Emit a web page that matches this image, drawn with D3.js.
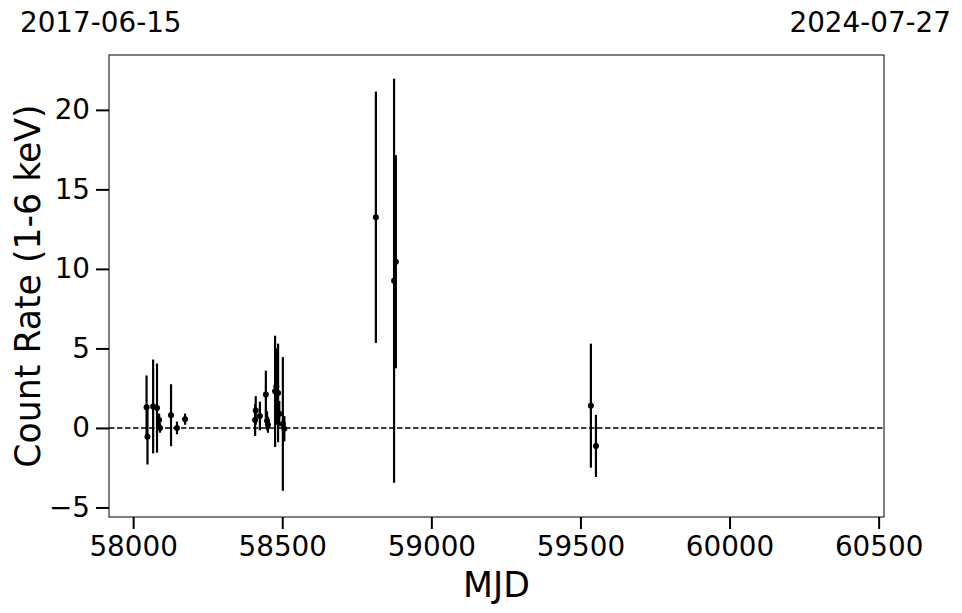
<!DOCTYPE html>
<html>
<head>
<meta charset="utf-8">
<script src="https://cdn.jsdelivr.net/npm/d3@7"></script>
<style>
  html, body { margin: 0; padding: 0; background: #fff; }
  svg { display: block; font-family: "DejaVu Sans", sans-serif; }
</style>
</head>
<body>
<svg id="chart" width="962" height="613"></svg>
<script>
// ---- data ----
const mjd   = [58045, 58048, 58067, 58080, 58087, 58090, 58127, 58147, 58174,
               58409, 58411, 58425, 58445, 58449, 58452, 58476, 58480, 58486, 58490, 58502, 58507,
               58814, 58875, 58881,
               59535, 59552];
const rate  = [1.3, -0.55, 1.35, 1.25, 0.5, 0.0, 0.8, 0.0, 0.55,
               0.5, 1.1, 0.75, 2.1, 0.45, 0.2, 2.3, 2.6, 2.2, 0.9, 0.25, -0.05,
               13.25, 9.25, 10.45,
               1.4, -1.13];
const rateErr = [2.0, 1.75, 2.95, 2.8, 0.4, 0.3, 1.95, 0.4, 0.35,
                 1.0, 0.9, 0.9, 1.5, 0.6, 0.5, 3.5, 2.4, 3.1, 0.8, 4.2, 0.8,
                 7.9, 12.7, 6.7,
                 3.9, 1.95];
const xTicks = [58000, 58500, 59000, 59500, 60000, 60500];
const yTicks = [-5, 0, 5, 10, 15, 20];
const startDate = "2017-06-15", endDate = "2024-07-27";
const xDomain = [57919, 60518];
const yDomain = [-5.6, 23.45];

// ---- layout ----
const svg = d3.select("#chart");
const L = 109, R = 884, T = 55, B = 517;
const x = d3.scaleLinear().domain(xDomain).range([L, R]);
const y = d3.scaleLinear().domain(yDomain).range([B, T]);
const pts = mjd.map((m, i) => ({m, r: rate[i], e: rateErr[i]}));

// zero line
svg.append("line")
  .attr("x1", L).attr("x2", R).attr("y1", y(0)).attr("y2", y(0))
  .attr("stroke", "#000").attr("stroke-width", 1.5).attr("stroke-dasharray", "5.5,2.5");

// error bars
svg.append("g").selectAll("line").data(pts).join("line")
  .attr("x1", d => x(d.m)).attr("x2", d => x(d.m))
  .attr("y1", d => y(d.r - d.e)).attr("y2", d => y(d.r + d.e))
  .attr("stroke", "#000").attr("stroke-width", 2.2);

// points
svg.append("g").selectAll("circle").data(pts).join("circle")
  .attr("cx", d => x(d.m)).attr("cy", d => y(d.r)).attr("r", 3)
  .attr("fill", "#000");

// frame
svg.append("rect").attr("x", L).attr("y", T).attr("width", R - L).attr("height", B - T)
  .attr("fill", "none").attr("stroke", "#000").attr("stroke-width", 1);

// axes
const xAxis = svg.append("g").attr("transform", `translate(0,${B})`)
  .call(d3.axisBottom(x).tickValues(xTicks).tickFormat(d3.format("d")).tickSize(12).tickPadding(7));
const yAxis = svg.append("g").attr("transform", `translate(${L},0)`)
  .call(d3.axisLeft(y).tickValues(yTicks).tickFormat(d => d < 0 ? "\u2212" + Math.abs(d) : d).tickSize(13).tickPadding(6));
[xAxis, yAxis].forEach(g => {
  g.select(".domain").remove();
  g.selectAll(".tick line").attr("stroke", "#000").attr("stroke-width", 2);
  g.selectAll(".tick text").attr("fill", "#000")
    .style("font-size", "27.8px").style("font-family", "DejaVu Sans, sans-serif");
});

// axis labels
svg.append("text").attr("x", (L + R) / 2).attr("y", 597).attr("text-anchor", "middle")
  .style("font-size", "34.7px").text("MJD");
svg.append("text").attr("transform", `translate(40,${(T + B) / 2}) rotate(-90)`)
  .attr("text-anchor", "middle").style("font-size", "34.7px").text("Count Rate (1-6 keV)");

// date labels
svg.append("text").attr("x", 20).attr("y", 32).style("font-size", "27.8px").text(startDate);
svg.append("text").attr("x", 951).attr("y", 32).attr("text-anchor", "end")
  .style("font-size", "27.8px").text(endDate);
</script>
</body>
</html>
